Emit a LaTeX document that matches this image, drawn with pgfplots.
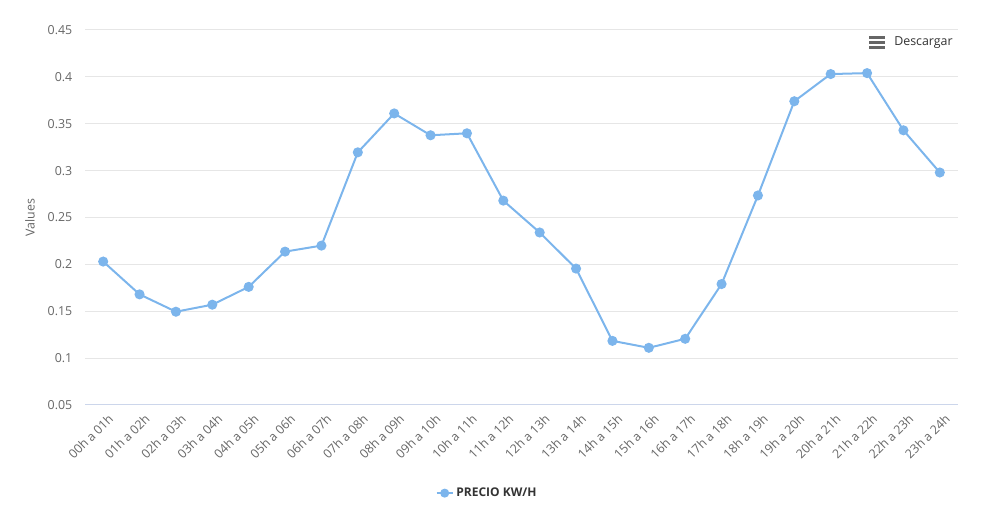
\documentclass[border=0pt]{standalone}
\usepackage{pgfplots}
\pgfplotsset{compat=1.18}
\usepackage{fontspec}
\setmainfont{Open Sans}
\definecolor{hcblue}{HTML}{7CB5EC}
\definecolor{gridc}{HTML}{E6E6E6}
\definecolor{axisc}{HTML}{CCD6EB}
\definecolor{labc}{HTML}{666666}
\definecolor{txtc}{HTML}{333333}
\begin{document}
\begin{tikzpicture}
\path[use as bounding box] (0,0) rectangle (749.25pt,390pt);
\begin{axis}[
  at={(63.75pt,86.25pt)}, anchor=south west,
  scale only axis, width=654.75pt, height=281.25pt,
  xmin=-0.5, xmax=23.5, ymin=0.05, ymax=0.45,
  ytick={0.05,0.1,0.15,0.2,0.25,0.3,0.35,0.4,0.45},
  yticklabels={0.05,0.1,0.15,0.2,0.25,0.3,0.35,0.4,0.45},
  xtick={0,...,23},
  xticklabels={00h a 01h,01h a 02h,02h a 03h,03h a 04h,04h a 05h,05h a 06h,06h a 07h,07h a 08h,08h a 09h,09h a 10h,10h a 11h,11h a 12h,12h a 13h,13h a 14h,14h a 15h,15h a 16h,16h a 17h,17h a 18h,18h a 19h,19h a 20h,20h a 21h,21h a 22h,22h a 23h,23h a 24h},
  major tick length=0,
  ymajorgrids, grid style={gridc, line width=0.75pt},
  axis line style={draw=none},
  axis x line*=bottom, axis y line*=left,
  x axis line style={draw=axisc, line width=0.75pt},
  y axis line style={draw=none},
  /pgf/number format/assume math mode=true,
  yticklabel style={font=\fontsize{9.3}{11}\selectfont, text=labc, xshift=-6pt},
  xticklabel style={font=\fontsize{9.3}{11}\selectfont, text=labc, rotate=45, anchor=north east, xshift=1.5pt, yshift=-3pt},
  ylabel={Values},
  ylabel style={at={(axis description cs:-0.063,0.5)}, anchor=center, font=\fontsize{9.3}{11}\selectfont, text=labc},
  legend style={at={(axis description cs:0.461,-0.235)}, anchor=center, draw=none, fill=none, font=\fontsize{9}{11}\selectfont\bfseries, text=txtc},
  legend image code/.code={\draw[hcblue, line width=1.5pt] (0pt,0pt) -- (12pt,0pt); \fill[hcblue] (6pt,0pt) circle (2.6pt);},
  clip=false,
]
\addplot[hcblue, line width=1.5pt, mark=*, mark size=3pt, mark options={fill=hcblue, draw=hcblue}] coordinates {
(0,0.203) (1,0.168) (2,0.1495) (3,0.157) (4,0.176) (5,0.2136) (6,0.220) (7,0.3195)
(8,0.361) (9,0.3377) (10,0.3398) (11,0.268) (12,0.234) (13,0.1955) (14,0.1184) (15,0.111)
(16,0.1206) (17,0.179) (18,0.2735) (19,0.374) (20,0.403) (21,0.404) (22,0.343) (23,0.298)
};
\addlegendentry{PRECIO KW/H}
\end{axis}
\foreach \yy in {361.5,357.75,354} {\draw[line width=2.25pt, labc] (651.75pt,\yy pt) -- (663.75pt,\yy pt);}
\node[anchor=west, font=\fontsize{9.3}{11}\selectfont, text=txtc, inner sep=0] at (670.5pt,357.75pt) {Descargar};
\end{tikzpicture}
\end{document}
